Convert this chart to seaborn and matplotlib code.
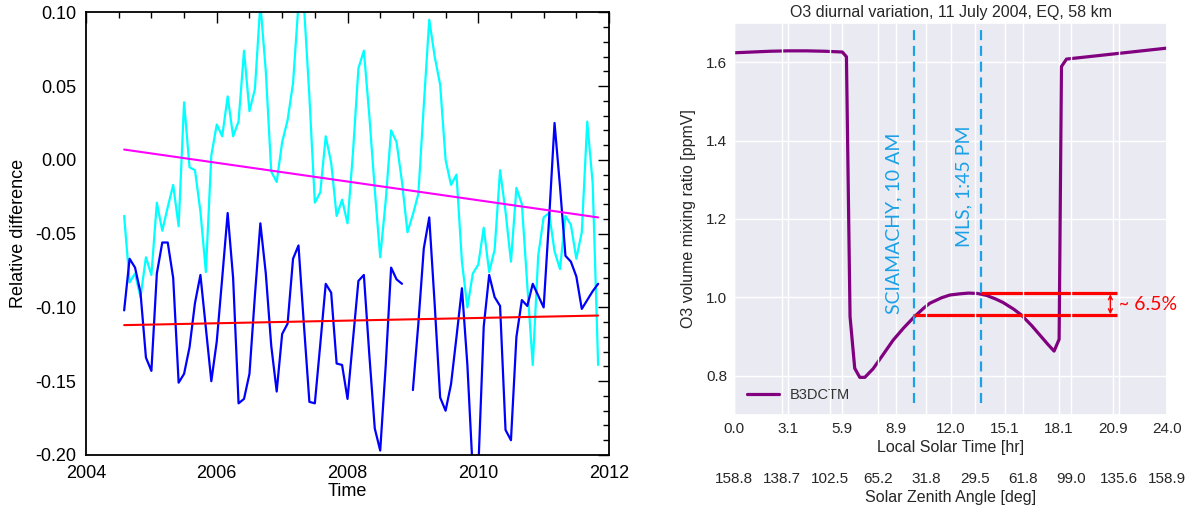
import numpy as np
import pandas as pd
import matplotlib
matplotlib.use("Agg")
import matplotlib.pyplot as plt
from matplotlib.ticker import MultipleLocator, FormatStrFormatter
import seaborn as sns

# ---------------- data: left panel (monthly relative differences) ----------------
start_year, start_month, n_months = 2004, 8, 88
cyan_vals = [-0.038, -0.083, -0.077, -0.093, -0.066, -0.078, -0.029, -0.048, -0.032, -0.017,
             -0.045, 0.039, -0.005, -0.007, -0.035, -0.076, 0.003, 0.024, 0.016, 0.043,
             0.016, 0.026, 0.074, 0.033, 0.048, 0.106, 0.060, -0.008, -0.015, 0.012,
             0.027, 0.052, 0.106, 0.105, 0.043, -0.029, -0.022, 0.016, -0.002, -0.038,
             -0.027, -0.043, 0.005, 0.062, 0.074, 0.030, -0.020, -0.066, -0.028, 0.020,
             0.012, -0.015, -0.049, -0.037, -0.023, 0.037, 0.095, 0.070, 0.051, 0.000,
             -0.017, -0.010, -0.069, -0.100, -0.077, -0.071, -0.046, -0.076, -0.061, -0.007,
             -0.035, -0.069, -0.019, -0.030, -0.085, -0.139, -0.065, -0.039, -0.036, -0.062,
             -0.074, -0.038, -0.044, -0.067, -0.049, 0.026, -0.016, -0.139]
blue_vals = [-0.102, -0.067, -0.073, -0.090, -0.134, -0.143, -0.077, -0.056, -0.056, -0.080,
             -0.151, -0.145, -0.127, -0.097, -0.078, -0.114, -0.150, -0.123, -0.080, -0.036,
             -0.080, -0.165, -0.162, -0.145, -0.092, -0.043, -0.077, -0.126, -0.157, -0.118,
             -0.111, -0.067, -0.058, -0.112, -0.164, -0.165, -0.125, -0.084, -0.090, -0.138,
             -0.139, -0.162, -0.122, -0.082, -0.078, -0.132, -0.182, -0.197, -0.140, -0.073,
             -0.081, -0.084, np.nan, -0.156, -0.111, -0.060, -0.039, -0.098, -0.161, -0.170,
             -0.152, -0.120, -0.087, -0.139, -0.212, -0.210, -0.113, -0.078, -0.093, -0.099,
             -0.183, -0.190, -0.120, -0.095, -0.099, -0.084, -0.092, -0.100, -0.040, 0.025,
             -0.018, -0.065, -0.069, -0.079, -0.101, -0.095, -0.089, -0.084]
trend_cyan = [0.007, -0.039]     # start / end value of magenta trend line
trend_blue = [-0.112, -0.1055]   # start / end value of red trend line
left_xticks = [2004, 2006, 2008, 2010, 2012]

# ---------------- data: right panel (diurnal cycle) ----------------
lst_hours = [0.0, 1.0, 2.0, 3.0, 4.0, 5.0, 6.0, 6.23, 6.43, 6.69, 6.97, 7.25, 7.71, 8.2, 8.82,
             9.4, 9.98, 10.5, 10.85, 11.5, 11.96, 12.5, 13.0, 13.5, 14.0, 14.5, 14.91, 15.5,
             15.93, 16.5, 16.95, 17.4, 17.74, 18.02, 18.15, 18.43, 24.0]
o3_vmr = [1.624, 1.626, 1.628, 1.629, 1.629, 1.628, 1.626, 1.614, 0.951, 0.819, 0.796, 0.796,
          0.818, 0.850, 0.891, 0.922, 0.950, 0.972, 0.985, 0.999, 1.006, 1.009, 1.011, 1.010,
          1.005, 0.996, 0.987, 0.970, 0.955, 0.928, 0.904, 0.880, 0.863, 0.893, 1.589, 1.608,
          1.636]
lst_ticklabels = ["0.0", "3.1", "5.9", "8.9", "12.0", "15.1", "18.1", "20.9", "24.0"]
sza_ticklabels = ["158.8", "138.7", "102.5", "65.2", "31.8", "29.5", "61.8", "99.0", "135.6", "158.9"]
sciamachy_time = 9.98
mls_time = 13.67
o3_at_sciamachy = 0.955
o3_at_mls = 1.010
bar_end = 21.22
diff_label = "~ 6.5%"

# ---------------- style ----------------
sns.set_theme(style="darkgrid")
plt.rcParams["font.family"] = ["Liberation Sans", "DejaVu Sans"]
plt.rcParams["axes.unicode_minus"] = False

fig = plt.figure(figsize=(11.93, 5.07), dpi=100)

# ================= left panel =================
ax1 = fig.add_axes([0.0721, 0.1026, 0.4384, 0.8731])
ax1.set_facecolor("white")
ax1.grid(False)

t = start_year + (start_month - 1 + np.arange(n_months)) / 12.0
df_c = pd.DataFrame({"t": t, "v": cyan_vals})
bv = np.array(blue_vals, dtype=float)
seg = np.cumsum(np.isnan(bv))
df_b = pd.DataFrame({"t": t, "v": bv, "seg": seg})

sns.lineplot(data=df_c, x="t", y="v", color="#00FFFF", lw=1.6, ax=ax1)
sns.lineplot(data=df_b, x="t", y="v", units="seg", estimator=None, color="#0000FF", lw=1.6, ax=ax1)
sns.lineplot(x=[t[0], t[-1]], y=trend_cyan, color="#FF00FF", lw=1.5, ax=ax1)
sns.lineplot(x=[t[0], t[-1]], y=trend_blue, color="#FF0000", lw=1.5, ax=ax1)

ax1.set_xlim(2004, 2012)
ax1.set_ylim(-0.20, 0.10)
ax1.set_xticks(left_xticks)
ax1.set_xticklabels([str(v) for v in left_xticks])
ax1.xaxis.set_minor_locator(MultipleLocator(0.5))
ax1.yaxis.set_major_locator(MultipleLocator(0.05))
ax1.yaxis.set_minor_locator(MultipleLocator(0.01))
ax1.yaxis.set_major_formatter(FormatStrFormatter("%.2f"))
ax1.tick_params(which="both", direction="in", top=True, right=True, colors="black",
                labelsize=13, width=1.0)
ax1.tick_params(which="major", length=8, pad=7)
ax1.tick_params(which="minor", length=4.5)
for s in ax1.spines.values():
    s.set_color("black")
    s.set_linewidth(1.3)
ax1.set_xlabel("Time", fontsize=13, color="black", labelpad=1)
ax1.set_ylabel("Relative difference", fontsize=13, color="black", labelpad=6)

# ================= right panel =================
ax = fig.add_axes([0.6153, 0.1815, 0.3629, 0.7731])
sns.lineplot(x=lst_hours, y=o3_vmr, color="purple", lw=2.3, label="B3DCTM", ax=ax, sort=False)

ax.set_xlim(0, 24)
ax.set_ylim(0.70, 1.70)
ax.set_xticks(np.linspace(0, 24, 9))
ax.set_xticklabels(lst_ticklabels)
ax.set_yticks([0.8, 1.0, 1.2, 1.4, 1.6])
ax.set_yticklabels(["0.8", "1.0", "1.2", "1.4", "1.6"])
ax.tick_params(axis="both", labelsize=11, length=0, pad=5, colors="0.15")
ax.set_xlabel("Local Solar Time [hr]", fontsize=11.5, color="0.15", labelpad=3)
ax.set_ylabel("O3 volume mixing ratio [ppmV]", fontsize=11.5, color="0.15", labelpad=7)
ax.set_title("O3 diurnal variation, 11 July 2004, EQ, 58 km", fontsize=11.5, color="0.15", pad=4)

vline_color = "#1BA1E6"
ax.axvline(sciamachy_time, ymin=0.03, ymax=0.995, color=vline_color, lw=1.6, dashes=(4.5, 2.6))
ax.axvline(mls_time, ymin=0.03, ymax=0.995, color=vline_color, lw=1.6, dashes=(4.5, 2.6))

ax.text(8.85, 0.958, "SCIAMACHY, 10 AM", rotation=90, ha="center", va="bottom",
        color=vline_color, fontsize=14, family=["Lato", "DejaVu Sans"])
ax.text(12.73, 1.129, "MLS, 1:45 PM", rotation=90, ha="center", va="bottom",
        color=vline_color, fontsize=14, family=["Lato", "DejaVu Sans"])

ax.hlines(o3_at_mls, mls_time, bar_end, color="#FF0000", lw=2.3, zorder=4)
ax.hlines(o3_at_sciamachy, sciamachy_time, bar_end, color="#FF0000", lw=2.3, zorder=4)
ax.annotate("", xy=(20.86, o3_at_mls - 0.002), xytext=(20.86, o3_at_sciamachy + 0.002),
            arrowprops=dict(arrowstyle="<->", color="#FF0000", lw=1.0,
                            shrinkA=0, shrinkB=0, mutation_scale=7))
ax.text(21.3, 0.981, diff_label, color="#FF0000", fontsize=14, ha="left", va="center",
        family=["Lato", "DejaVu Sans"], clip_on=False)

leg = ax.legend(loc="lower left", frameon=False, fontsize=10.5, handlelength=2.2,
                handletextpad=0.7, borderaxespad=0.5)
for txt in leg.get_texts():
    txt.set_color("0.2")

# secondary axis: solar zenith angle
ax2 = ax.twiny()
ax2.set_xlim(0, 24)
ax2.set_xticks(np.linspace(0, 24, 10))
ax2.set_xticklabels(sza_ticklabels)
ax2.xaxis.set_ticks_position("bottom")
ax2.xaxis.set_label_position("bottom")
ax2.spines["bottom"].set_position(("outward", 36))
for s in ax2.spines.values():
    s.set_visible(False)
ax2.grid(True, axis="x", color="white", lw=1.0)
ax2.grid(False, axis="y")
ax2.tick_params(axis="x", labelsize=11, length=0, pad=5, colors="0.15")
ax2.set_xlabel("Solar Zenith Angle [deg]", fontsize=11.5, color="0.15", labelpad=3)

fig.savefig("out.png", dpi=100)
